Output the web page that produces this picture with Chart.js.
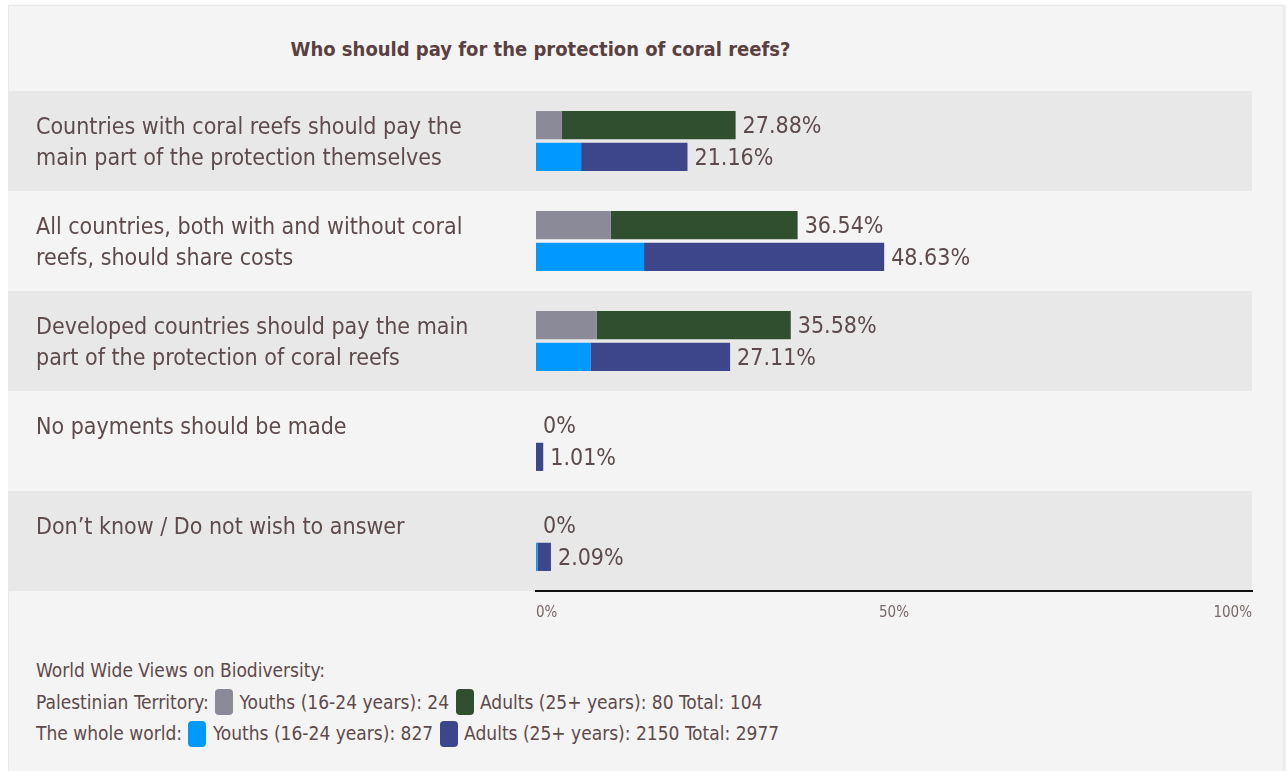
<!DOCTYPE html>
<html>
<head>
<meta charset="utf-8">
<title>Coral reefs</title>
<script src="https://cdn.jsdelivr.net/npm/chart.js@4.4.1/dist/chart.umd.min.js"></script>
<style>
  body { margin: 0; background: #fff; font-family: "DejaVu Sans Condensed", sans-serif; color: #5e4a4a; }
  #panel { position: absolute; left: 8px; top: 5px; width: 1274px; height: 790px; background: #f4f4f4;
           border: 1px solid #e9e9e9; box-shadow: 2px 0 3px rgba(0,0,0,0.08); }
  #title { position: absolute; left: 0; top: 31px; width: 1063px; text-align: center;
           font-weight: bold; font-size: 20px; color: #5a4040; white-space: nowrap; }
  #chartBox { position: absolute; left: -1px; top: 85px; width: 1252px; height: 535px; }
  #footer { position: absolute; left: 27px; top: 649px; font-size: 19px; line-height: 31.5px; color: #5e4a4a; white-space: nowrap; }
  .sw { display: inline-block; width: 18px; height: 26px; border-radius: 4px; vertical-align: middle; margin: 0 1px; position: relative; top: -1px; }
</style>
</head>
<body>
<div id="panel">
  <div id="title">Who should pay for the protection of coral reefs?</div>
  <div id="chartBox"><canvas id="myChart" width="1252" height="535"></canvas></div>
  <div id="footer"></div>
</div>
<script>
// answer options, wrapped the way they are printed
const categories = [
  ["Countries with coral reefs should pay the", "main part of the protection themselves"],
  ["All countries, both with and without coral", "reefs, should share costs"],
  ["Developed countries should pay the main", "part of the protection of coral reefs"],
  ["No payments should be made"],
  ["Don\u2019t know / Do not wish to answer"]
];

// percent of all respondents, split by age group
const ptYouths     = [3.62, 10.44, 8.50, 0, 0];
const ptAdults     = [24.26, 26.10, 27.08, 0, 0];
const worldYouths  = [6.30, 15.09, 7.60, 0, 0.20];
const worldAdults  = [14.86, 33.54, 19.51, 1.01, 1.89];

const xTicks = [0, 50, 100];

// respondent counts for the footer
const ptCounts    = { youths: 24, adults: 80 };
const worldCounts = { youths: 827, adults: 2150 };

const colors = {
  ptYouths: "#8a8a99",
  ptAdults: "#2f4f2e",
  worldYouths: "#0099ff",
  worldAdults: "#3d468a"
};
const textColor = "#5e4a4a";

Chart.defaults.font.family = '"DejaVu Sans Condensed", sans-serif';

// alternating row bands behind the bars
const bandPlugin = {
  id: "bands",
  beforeDraw(chart) {
    const ctx = chart.ctx, y = chart.scales.y, area = chart.chartArea;
    const step = y.getPixelForValue(1) - y.getPixelForValue(0);
    ctx.save();
    categories.forEach((c, i) => {
      ctx.fillStyle = i % 2 === 0 ? "#e8e8e8" : "#f4f4f4";
      const cy = y.getPixelForValue(i);
      ctx.fillRect(0, cy - step / 2, area.right, step);
    });
    ctx.restore();
  }
};

// total percentage at the end of each stacked bar
const totalsPlugin = {
  id: "totals",
  afterDatasetsDraw(chart) {
    const ctx = chart.ctx, x = chart.scales.x;
    ctx.save();
    ctx.font = '23px "DejaVu Sans Condensed", sans-serif';
    ctx.fillStyle = textColor;
    ctx.textBaseline = "middle";
    ctx.textAlign = "left";
    [[0, 1], [2, 3]].forEach(pair => {
      const a = chart.data.datasets[pair[0]].data, b = chart.data.datasets[pair[1]].data;
      const meta = chart.getDatasetMeta(pair[1]);
      a.forEach((v, i) => {
        const total = v + b[i];
        const txt = total === 0 ? "0%" : total.toFixed(2) + "%";
        ctx.fillText(txt, x.getPixelForValue(total) + 7, meta.data[i].y + 2);
      });
    });
    ctx.restore();
  }
};

// zero-length pieces are left out entirely
const fill = c => (context => context.raw === 0 ? "rgba(0,0,0,0)" : c);

const ctx = document.getElementById("myChart").getContext("2d");
new Chart(ctx, {
  type: "bar",
  data: {
    // one-line labels get an empty second line so they sit at the top of the row
    labels: categories.map(l => l.length === 1 ? [l[0], ""] : l),
    datasets: [
      { label: "PT youths", data: ptYouths, backgroundColor: fill(colors.ptYouths), stack: "pt" },
      { label: "PT adults", data: ptAdults, backgroundColor: fill(colors.ptAdults), stack: "pt" },
      { label: "World youths", data: worldYouths, backgroundColor: fill(colors.worldYouths), stack: "world" },
      { label: "World adults", data: worldAdults, backgroundColor: fill(colors.worldAdults), stack: "world" }
    ]
  },
  options: {
    responsive: false,
    animation: false,
    indexAxis: "y",
    categoryPercentage: 0.634,
    barPercentage: 0.89,
    layout: { padding: { left: 28, right: 8, top: 0, bottom: 0 } },
    plugins: { legend: { display: false }, tooltip: { enabled: false } },
    scales: {
      y: {
        stacked: true,
        grid: { display: false },
        border: { display: false },
        afterFit(scale) {
          scale.width = 500;
          scale.paddingTop = 0;
          scale.paddingBottom = 0;
        },
        ticks: {
          crossAlign: "far",
          labelOffset: 3,
          color: textColor,
          font: { size: 23, lineHeight: 1.35 }
        }
      },
      x: {
        stacked: true,
        min: 0,
        max: 100,
        grid: { display: false },
        border: { display: true, color: "#111", width: 2 },
        afterFit(scale) { scale.height = 35; },
        afterBuildTicks(scale) { scale.ticks = xTicks.map(v => ({ value: v })); },
        ticks: {
          align: "inner",
          padding: 5,
          color: "#7a6868",
          font: { size: 15 },
          callback: v => v + "%"
        }
      }
    }
  },
  plugins: [bandPlugin, totalsPlugin]
});

// footer with sample sizes
const sw = c => '<span class="sw" style="background:' + c + '"></span>';
document.getElementById("footer").innerHTML =
  "World Wide Views on Biodiversity:<br>" +
  "Palestinian Territory: " + sw(colors.ptYouths) + " Youths (16-24 years): " + ptCounts.youths + " " +
  sw(colors.ptAdults) + " Adults (25+ years): " + ptCounts.adults + " Total: " + (ptCounts.youths + ptCounts.adults) + "<br>" +
  "The whole world: " + sw(colors.worldYouths) + " Youths (16-24 years): " + worldCounts.youths + " " +
  sw(colors.worldAdults) + " Adults (25+ years): " + worldCounts.adults + " Total: " + (worldCounts.youths + worldCounts.adults);
</script>
</body>
</html>
